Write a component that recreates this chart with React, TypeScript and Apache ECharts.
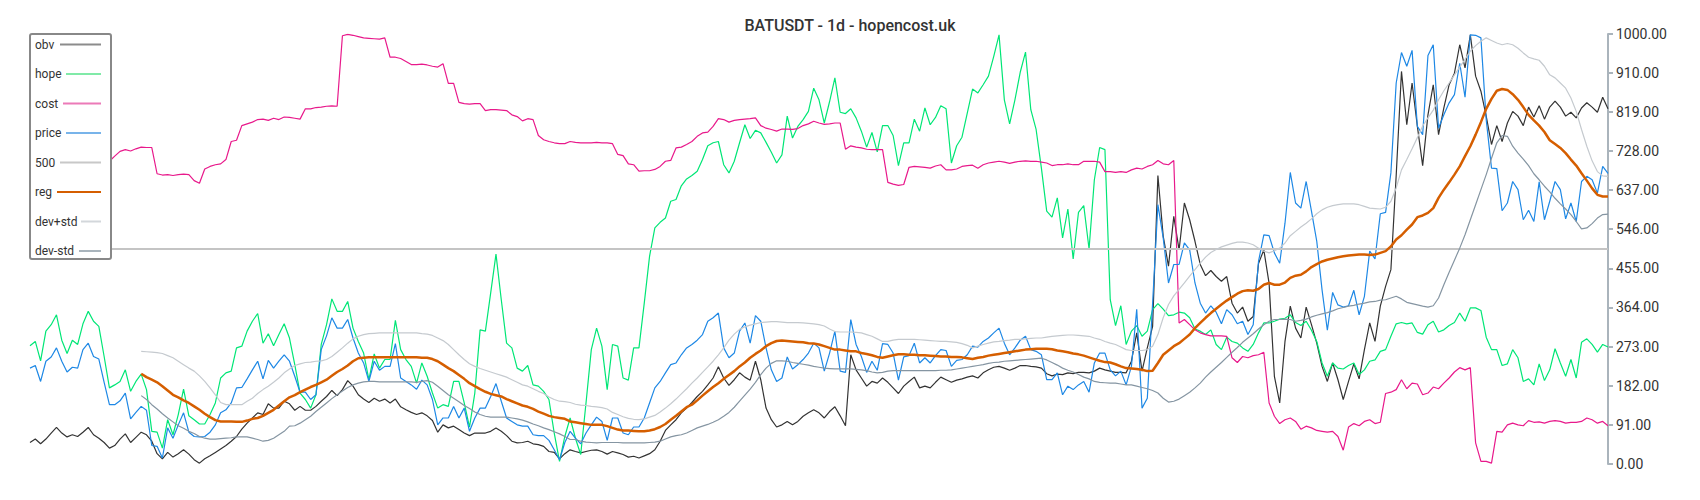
import React, { useEffect, useRef } from "react";
import * as echarts from "echarts";

const TITLE = "BATUSDT - 1d - hopencost.uk";
const LEVEL = 500;
const Y_MIN = 0;
const Y_MAX = 1000;
const Y_STEP = 91;
const REG_START = 21;

const obv = [
  50, 58, 47, 58, 72, 85, 72, 63, 68, 64, 74, 85, 68, 60, 50, 37, 43, 58, 70, 50, 62, 74, 68, 53, 24, 12, 27, 16, 24, 33, 23, 10, 2, 12, 19, 27, 35, 43, 53, 64, 81, 95, 107, 119, 115, 140, 130, 130, 146, 140,
  125, 134, 125, 125, 134, 146, 157, 171, 159, 173, 194, 181, 161, 151, 143, 153, 146, 151, 142, 151, 133, 126, 120, 115, 119, 112, 101, 74, 91, 84, 88, 80, 72, 66, 72, 72, 72, 76, 84, 76, 66, 53, 49, 50, 53, 47, 45, 41, 29, 27, 12, 24, 33,
  29, 26, 29, 32, 33, 29, 23, 29, 26, 22, 16, 18, 14, 19, 24, 33, 53, 78, 91, 103, 119, 130, 143, 157, 169, 184, 200, 226, 200, 183, 196, 212, 202, 195, 239, 196, 130, 103, 86, 91, 99, 91, 99, 111, 119, 126, 119, 107, 122, 133, 112, 89, 254,
  219, 200, 181, 192, 188, 200, 190, 177, 164, 181, 192, 202, 177, 181, 177, 190, 202, 196, 190, 195, 198, 202, 205, 200, 212, 219, 225, 227, 223, 218, 223, 229, 229, 227, 226, 223, 210, 205, 209, 208, 212, 210, 213, 213, 212, 216, 223, 219, 216, 213, 213, 212,
  239, 305, 216, 270, 320, 671, 530, 460, 576, 498, 607, 568, 518, 464, 438, 450, 436, 425, 436, 374, 351, 365, 332, 343, 466, 498, 420, 204, 142, 285, 367, 316, 293, 365, 324, 281, 227, 192, 235, 196, 150, 192, 233, 198, 266, 328, 285, 367, 413, 452, 671,
  913, 789, 886, 785, 694, 812, 882, 766, 828, 882, 909, 975, 921, 998, 902, 867, 809, 743, 787, 750, 793, 820, 809, 787, 830, 807, 833, 802, 830, 844, 830, 809, 818, 805, 828, 840, 830, 818, 853, 826,
];

const hope = [
  275, 285, 240, 309, 324, 347, 288, 257, 288, 278, 326, 355, 332, 320, 250, 177, 184, 192, 219, 169, 192, 209, 173, 76, 74, 37, 103, 68, 115, 174, 112, 103, 93, 93, 115, 142, 200, 212, 216, 270, 274, 309, 332, 350, 281, 303, 275, 301, 326, 293,
  231, 165, 150, 130, 161, 278, 324, 384, 355, 355, 378, 316, 285, 258, 196, 256, 223, 243, 243, 334, 266, 243, 227, 188, 235, 204, 165, 130, 138, 134, 192, 192, 142, 86, 165, 312, 309, 398, 488, 382, 281, 270, 223, 216, 229, 184, 181, 169, 150, 72, 6, 64, 107,
  60, 22, 142, 266, 316, 274, 173, 278, 274, 200, 195, 270, 270, 374, 483, 549, 562, 572, 611, 615, 647, 663, 671, 681, 708, 740, 747, 750, 696, 677, 704, 747, 789, 757, 776, 770, 748, 725, 700, 719, 809, 758, 785, 801, 820, 874, 847, 793, 843, 898, 818, 815, 826,
  805, 774, 737, 771, 726, 787, 787, 764, 694, 747, 747, 802, 774, 828, 789, 806, 833, 826, 700, 740, 760, 816, 872, 863, 882, 902, 948, 998, 847, 791, 847, 911, 958, 824, 778, 688, 588, 574, 619, 526, 593, 477, 585, 601, 500, 661, 736, 731, 382, 322, 368, 278,
  309, 322, 297, 309, 359, 373, 360, 345, 347, 353, 351, 340, 314, 309, 301, 312, 278, 266, 295, 285, 281, 270, 262, 278, 305, 328, 328, 332, 337, 339, 347, 329, 322, 332, 311, 285, 235, 204, 235, 223, 221, 229, 235, 208, 219, 239, 242, 262, 266, 297, 326,
  329, 326, 328, 306, 302, 324, 332, 307, 312, 322, 329, 351, 332, 363, 363, 357, 295, 266, 266, 229, 233, 266, 247, 192, 198, 184, 233, 194, 219, 268, 235, 204, 243, 200, 283, 291, 278, 260, 278, 272,
];

const cost = [
  700, 704, 708, 712, 716, 718, 720, 722, 718, 714, 712, 710, 708, 706, 705,
  704, 716, 727, 731, 728, 733, 737, 736, 736, 675, 672, 673, 671, 673, 674, 673, 659, 653, 686, 692, 696, 698, 708, 750, 753, 787, 791, 795, 801, 802, 799, 804, 801, 807, 806,
  804, 802, 826, 826, 829, 830, 832, 833, 832, 996, 999, 997, 994, 991, 990, 989, 988, 991, 946, 946, 943, 936, 929, 929, 930, 928, 925, 923, 931, 885, 885, 841, 838, 837, 838, 838, 822, 824, 824, 823, 822, 812, 808, 798, 803, 801, 764, 754, 750, 747, 745, 745, 750,
  748, 747, 747, 747, 748, 747, 747, 745, 720, 717, 698, 696, 681, 682, 682, 685, 692, 704, 706, 735, 737, 743, 750, 762, 770, 772, 785, 803, 801, 795, 799, 801, 802, 803, 805, 787, 781, 778, 774, 779, 779, 778, 780, 787, 791, 797, 793, 790, 791, 793, 793, 732, 740,
  737, 735, 732, 731, 731, 731, 655, 651, 648, 650, 690, 692, 691, 690, 688, 693, 696, 684, 684, 686, 692, 694, 695, 688, 696, 700, 702, 704, 702, 699, 702, 704, 705, 704, 704, 702, 700, 694, 696, 696, 698, 696, 696, 704, 704, 704, 702, 680, 680, 678, 680, 678,
  684, 688, 686, 692, 696, 706, 698, 696, 706, 328, 336, 324, 312, 305, 301, 298, 298, 298, 297, 247, 236, 250, 247, 252, 254, 260, 142, 111, 94, 103, 107, 99, 81, 88, 84, 78, 76, 74, 76, 64, 32, 86, 94, 89, 99, 103, 94, 97, 164, 167, 173,
  196, 175, 188, 186, 161, 165, 179, 175, 188, 200, 214, 224, 219, 224, 49, 6, 6, 2, 76, 74, 91, 95, 91, 89, 101, 97, 98, 95, 99, 101, 99, 95, 97, 97, 99, 107, 103, 95, 99, 89,
];

const price = [
  223, 229, 192, 239, 249, 270, 239, 214, 225, 223, 266, 281, 250, 244, 190, 138, 138, 147, 165, 105, 120, 134, 125, 43, 41, 14, 84, 60, 91, 119, 74, 64, 63, 64, 74, 91, 119, 126, 142, 177, 178, 198, 219, 239, 198, 241, 223, 239, 254, 239,
  204, 167, 167, 150, 161, 266, 298, 340, 316, 316, 336, 293, 258, 235, 192, 239, 218, 227, 227, 280, 200, 192, 184, 174, 195, 184, 150, 91, 107, 107, 134, 107, 130, 76, 107, 130, 130, 157, 187, 146, 107, 99, 91, 88, 88, 68, 66, 66, 55, 33, 10, 50, 76,
  60, 47, 72, 91, 109, 99, 55, 107, 107, 72, 68, 86, 86, 107, 142, 177, 192, 212, 231, 235, 254, 270, 278, 288, 301, 332, 340, 351, 270, 247, 258, 309, 328, 281, 345, 332, 270, 219, 192, 200, 249, 221, 231, 243, 258, 281, 270, 216, 258, 309, 216, 213, 336,
  278, 250, 213, 239, 218, 280, 278, 258, 195, 249, 252, 281, 235, 247, 235, 252, 266, 264, 227, 241, 243, 254, 274, 272, 285, 293, 305, 316, 281, 254, 270, 288, 297, 266, 262, 254, 196, 196, 212, 161, 181, 173, 184, 192, 167, 235, 258, 258, 219, 205, 216, 184,
  227, 360, 130, 153, 374, 603, 526, 421, 464, 464, 514, 498, 421, 374, 351, 368, 353, 326, 359, 347, 326, 332, 301, 324, 471, 533, 531, 491, 467, 560, 678, 607, 595, 657, 588, 518, 405, 311, 399, 370, 365, 368, 404, 347, 390, 495, 477, 582, 585, 677, 886,
  957, 925, 962, 785, 766, 950, 975, 781, 812, 840, 859, 932, 853, 998, 997, 991, 801, 688, 687, 589, 607, 657, 638, 568, 590, 564, 656, 568, 611, 657, 638, 570, 607, 564, 657, 669, 661, 630, 692, 676,
];

const regValues = [
  210, 202, 196, 190, 181, 171, 161, 155, 148, 142, 134, 126, 117, 109, 102, 99, 99, 99, 98, 98, 101, 105, 107, 112, 119, 126, 136, 146, 155,
  160, 167, 173, 179, 184, 190, 196, 205, 214, 221, 229, 239, 246, 247, 248, 248, 248, 248, 248, 248, 248, 248, 248, 248, 247, 247, 244, 239, 231, 223, 216, 207, 198, 188, 181, 174, 168, 163, 160, 157, 151, 146, 141, 136, 133, 128, 122, 117, 112, 109, 107, 105, 99,
  97, 95, 93, 91, 91, 91, 88, 84, 80, 78, 78, 77, 76, 76, 78, 81, 86, 93, 103, 112, 122, 132, 138, 148, 159, 169, 179, 188, 198, 207, 216, 227, 236, 247, 256, 264, 274, 281, 286, 287, 286, 285, 284, 283, 281, 280, 278, 274, 270, 266, 266, 264, 262,
  262, 258, 256, 253, 249, 247, 250, 253, 255, 255, 254, 254, 253, 253, 252, 251, 250, 250, 249, 249, 248, 246, 244, 247, 249, 252, 254, 256, 258, 260, 262, 264, 266, 267, 268, 268, 268, 267, 264, 262, 260, 257, 255, 252, 248, 244, 240, 237, 236, 232, 227, 223,
  222, 221, 219, 216, 217, 235, 254, 264, 274, 281, 291, 301, 316, 328, 340, 351, 361, 371, 380, 388, 396, 402, 404, 403, 407, 417, 421, 417, 417, 422, 433, 438, 440, 448, 458, 465, 471, 475, 478, 481, 483, 485, 486, 487, 487, 486, 487, 491, 495, 506, 522,
  532, 545, 557, 574, 578, 584, 595, 619, 638, 655, 673, 692, 716, 739, 766, 795, 826, 849, 868, 872, 870, 860, 847, 830, 812, 799, 787, 772, 753, 744, 735, 723, 708, 694, 676, 659, 641, 626, 622, 622,
];

const devPlusValues = [
  262, 261, 260, 259, 257, 252, 247, 239, 231, 223, 216, 205, 192, 177, 161, 143, 138, 138, 138, 138, 146, 153, 164, 173, 181, 190, 200, 212, 221,
  229, 233, 236, 237, 239, 240, 243, 250, 260, 270, 281, 291, 297, 301, 303, 304, 305, 305, 305, 305, 305, 305, 305, 305, 303, 302, 299, 293, 287, 278, 266, 254, 243, 233, 227, 222, 218, 214, 210, 206, 202, 196, 190, 184, 181, 175, 169, 164, 156, 150, 146, 145, 143,
  139, 137, 136, 134, 133, 131, 128, 120, 115, 110, 106, 104, 103, 105, 109, 113, 121, 130, 140, 151, 163, 175, 188, 200, 213, 226, 239, 254, 270, 288, 302, 313, 319, 323, 326, 329, 330, 331, 331, 330, 329, 329, 329, 328, 327, 326, 324, 321, 314, 308, 307, 307, 307,
  306, 305, 301, 297, 291, 285, 285, 288, 290, 290, 290, 290, 289, 288, 287, 286, 285, 285, 284, 283, 280, 276, 270, 274, 278, 281, 284, 285, 287, 288, 290, 290, 291, 292, 293, 293, 295, 297, 298, 299, 300, 300, 299, 298, 297, 293, 290, 285, 281, 278, 272, 266,
  264, 264, 264, 266, 274, 301, 340, 371, 391, 406, 421, 437, 452, 467, 481, 492, 499, 505, 509, 513, 516, 516, 514, 510, 502, 495, 491, 496, 502, 514, 531, 541, 551, 560, 570, 582, 591, 597, 601, 603, 605, 605, 605, 603, 599, 595, 594, 593, 597, 611, 642,
  684, 708, 733, 759, 786, 805, 823, 847, 868, 886, 905, 923, 941, 960, 973, 983, 991, 985, 979, 975, 978, 975, 967, 956, 946, 942, 939, 925, 905, 898, 886, 874, 851, 820, 778, 739, 705, 680, 670, 669,
];

const devMinusValues = [
  159, 150, 138, 128, 117, 107, 98, 89, 83, 76, 71, 64, 60, 58, 58, 59, 60, 61, 63, 63, 63, 60, 57, 53, 55, 60, 68, 76, 88,
  89, 95, 103, 111, 122, 132, 142, 152, 161, 170, 178, 184, 188, 191, 192, 192, 191, 191, 191, 191, 191, 191, 191, 190, 192, 194, 190, 181, 171, 161, 153, 145, 136, 129, 121, 115, 111, 109, 109, 109, 109, 107, 105, 102, 98, 93, 89, 84, 80, 75, 70, 64, 57,
  57, 53, 51, 50, 49, 50, 50, 50, 50, 49, 49, 49, 49, 49, 50, 51, 53, 58, 63, 66, 68, 72, 78, 84, 88, 92, 97, 103, 111, 120, 132, 146, 160, 174, 190, 208, 223, 234, 240, 240, 239, 236, 234, 232, 230, 227, 225, 223, 222, 221, 221, 221, 221,
  220, 219, 217, 214, 212, 213, 216, 217, 217, 217, 217, 217, 217, 217, 217, 217, 218, 218, 219, 221, 223, 225, 227, 229, 231, 234, 236, 237, 239, 240, 241, 242, 243, 244, 245, 246, 242, 236, 230, 223, 218, 214, 208, 202, 198, 192, 190, 189, 188, 188, 186, 184,
  184, 181, 178, 175, 171, 165, 153, 144, 146, 151, 159, 167, 177, 188, 202, 214, 225, 236, 248, 260, 271, 283, 293, 303, 314, 324, 332, 336, 336, 337, 336, 332, 334, 337, 342, 346, 349, 352, 356, 361, 364, 367, 369, 372, 374, 377, 378, 381, 382, 386, 390,
  384, 376, 373, 370, 367, 365, 368, 386, 417, 446, 474, 502, 533, 568, 603, 638, 673, 711, 747, 764, 762, 739, 723, 709, 694, 675, 661, 646, 633, 618, 605, 593, 580, 564, 547, 549, 559, 572, 580, 581,
];

const lead: (number | null)[] = Array(REG_START).fill(null);
const reg = lead.concat(regValues);
const devPlus = lead.concat(devPlusValues);
const devMinus = lead.concat(devMinusValues);
const days = obv.map((_, i) => String(i));

const legendNames = ["obv", "hope", "cost", "price", "500", "reg", "dev+std", "dev-std"];
const lineColors = ["#333333", "#00e676", "#e8198b", "#1e88e5", "#c4c4c4", "#d55e00", "#c5cacf", "#8595a2"];
const iconColors = ["#8c8c8c", "#80eaa8", "#ec7ab8", "#78b4ea", "#c8c8c8", "#d55e00", "#d3d7db", "#a9b4bc"];
const iconStarts = [60, 66, 63, 66, 60, 57, 81, 79];

export default function App() {
  const ref = useRef<HTMLDivElement>(null);

  useEffect(() => {
    if (!ref.current) return;
    const chart = echarts.init(ref.current, null, { renderer: "svg" });

    const mk = (name: string, data: any[], idx: number, width: number) => ({
      name,
      type: "line",
      data,
      showSymbol: false,
      symbol: "none",
      silent: true,
      lineStyle: { color: lineColors[idx], width },
      itemStyle: { color: lineColors[idx] },
      emphasis: { disabled: true },
    });

    const legendEls: any[] = [
      {
        type: "rect",
        shape: { x: 30, y: 34, width: 81, height: 225, r: 2 },
        style: { fill: "#ffffff", stroke: "#888888", lineWidth: 2 },
        z: 100,
      },
    ];
    legendNames.forEach((n, i) => {
      const y = 44.5 + 29.5 * i;
      legendEls.push({
        type: "text",
        x: 35,
        y,
        style: { text: n, fill: "#333333", font: "12px Roboto", verticalAlign: "middle", align: "left" },
        z: 101,
      });
      legendEls.push({
        type: "line",
        shape: { x1: iconStarts[i], y1: y, x2: 101, y2: y },
        style: { stroke: iconColors[i], lineWidth: 2 },
        z: 101,
      });
    });

    chart.setOption({
      animation: false,
      title: {
        text: TITLE,
        left: "center",
        top: 12,
        textStyle: { fontFamily: "Roboto", fontSize: 16, fontWeight: 500, color: "#333333" },
      },
      grid: { left: 30, right: 92, top: 34, bottom: 36, containLabel: false, outerBoundsMode: "none" },
      xAxis: { type: "category", data: days, show: false, boundaryGap: false },
      yAxis: {
        type: "value",
        position: "right",
        min: Y_MIN,
        max: Y_MAX,
        interval: Y_STEP,
        splitLine: { show: false },
        axisLine: { show: true, lineStyle: { color: "#aab4bc", width: 2 } },
        axisTick: { show: true, length: 5, lineStyle: { color: "#aab4bc", width: 2 } },
        axisLabel: {
          formatter: (v: number) => v.toFixed(2),
          color: "#333333",
          fontFamily: "Roboto",
          fontSize: 14,
          margin: 8,
        },
      },
      series: [
        mk("obv", obv, 0, 1.2),
        mk("hope", hope, 1, 1.2),
        mk("cost", cost, 2, 1.2),
        mk("price", price, 3, 1.2),
        mk("500", [[0, LEVEL], [days.length - 1, LEVEL]], 4, 2),
        mk("reg", reg, 5, 2.5),
        mk("dev+std", devPlus, 6, 1.2),
        mk("dev-std", devMinus, 7, 1.2),
      ],
      graphic: legendEls,
    });

    return () => chart.dispose();
  }, []);

  return (
    <div
      ref={ref}
      style={{ position: "fixed", left: 0, top: 0, width: 1700, height: 500, background: "#ffffff" }}
    />
  );
}
